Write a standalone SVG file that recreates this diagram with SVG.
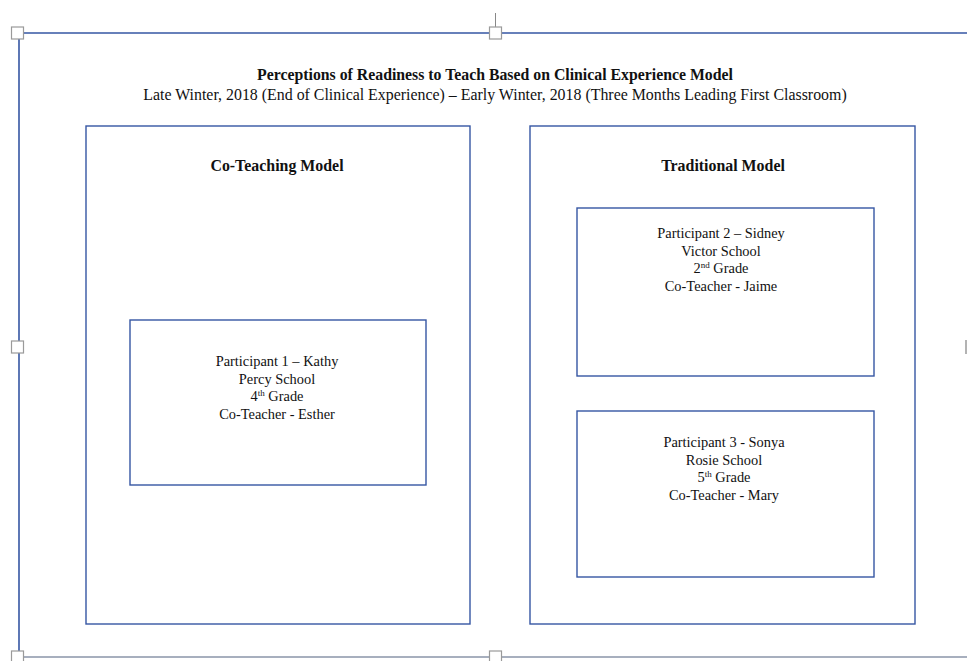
<svg xmlns="http://www.w3.org/2000/svg" width="967" height="661" viewBox="0 0 967 661">
<style>
.box{fill:#fff;stroke:#3556a3;stroke-width:1.4}
.h{fill:#fff;stroke:#9a9a9a;stroke-width:1.2}
text{font-family:"Liberation Serif","Times New Roman",serif;fill:#111;text-anchor:middle}
.t{font-size:15.8px;font-weight:bold}
.s{font-size:15.9px}
.m{font-size:15.9px;font-weight:bold}
.p{font-size:14.4px}
.sup{font-size:9px}
</style>
<rect width="967" height="661" fill="#fff"/>
<g id="frame">
<line x1="495.5" y1="13" x2="495.5" y2="27" stroke="#888" stroke-width="1"/>
<line x1="18" y1="33" x2="967" y2="33" stroke="#3556a3" stroke-width="1.6"/>
<line x1="19" y1="33" x2="19" y2="655" stroke="#3556a3" stroke-width="1.6"/>
<line x1="18" y1="657" x2="967" y2="657" stroke="#8a94a8" stroke-width="1.4"/>
<rect class="h" x="11.5" y="27" width="12" height="12"/>
<rect class="h" x="489.5" y="27" width="12" height="12"/>
<rect class="h" x="11.5" y="341" width="12" height="12"/>
<rect class="h" x="11.5" y="651" width="12" height="12"/>
<rect class="h" x="489.5" y="651" width="12" height="12"/>
<line x1="966" y1="340" x2="966" y2="354" stroke="#9a9a9a" stroke-width="1.5"/>
</g>
<g id="title">
<text class="t" x="495" y="80">Perceptions of Readiness to Teach Based on Clinical Experience Model</text>
<text class="s" x="495" y="100">Late Winter, 2018 (End of Clinical Experience) – Early Winter, 2018 (Three Months Leading First Classroom)</text>
</g>
<g id="coteaching">
<rect class="box" x="86" y="126" width="384" height="498"/>
<text class="m" x="277" y="171">Co-Teaching Model</text>
</g>
<g id="traditional">
<rect class="box" x="530" y="126" width="385" height="498"/>
<text class="m" x="723" y="171">Traditional Model</text>
</g>
<g id="p1">
<rect class="box" x="130" y="320" width="296" height="165"/>
<text class="p" x="277" y="366">Participant 1 – Kathy</text>
<text class="p" x="277" y="384">Percy School</text>
<text class="p" x="277" y="401">4<tspan class="sup" dy="-5">th</tspan><tspan dy="5"> Grade</tspan></text>
<text class="p" x="277" y="419">Co-Teacher - Esther</text>
</g>
<g id="p2">
<rect class="box" x="577" y="208" width="297" height="168"/>
<text class="p" x="721" y="238">Participant 2 – Sidney</text>
<text class="p" x="721" y="256">Victor School</text>
<text class="p" x="721" y="273">2<tspan class="sup" dy="-5">nd</tspan><tspan dy="5"> Grade</tspan></text>
<text class="p" x="721" y="291">Co-Teacher - Jaime</text>
</g>
<g id="p3">
<rect class="box" x="577" y="411" width="297" height="166"/>
<text class="p" x="724" y="447">Participant 3 - Sonya</text>
<text class="p" x="724" y="465">Rosie School</text>
<text class="p" x="724" y="482">5<tspan class="sup" dy="-5">th</tspan><tspan dy="5"> Grade</tspan></text>
<text class="p" x="724" y="500">Co-Teacher - Mary</text>
</g>
<g id="connectors"></g>
</svg>
